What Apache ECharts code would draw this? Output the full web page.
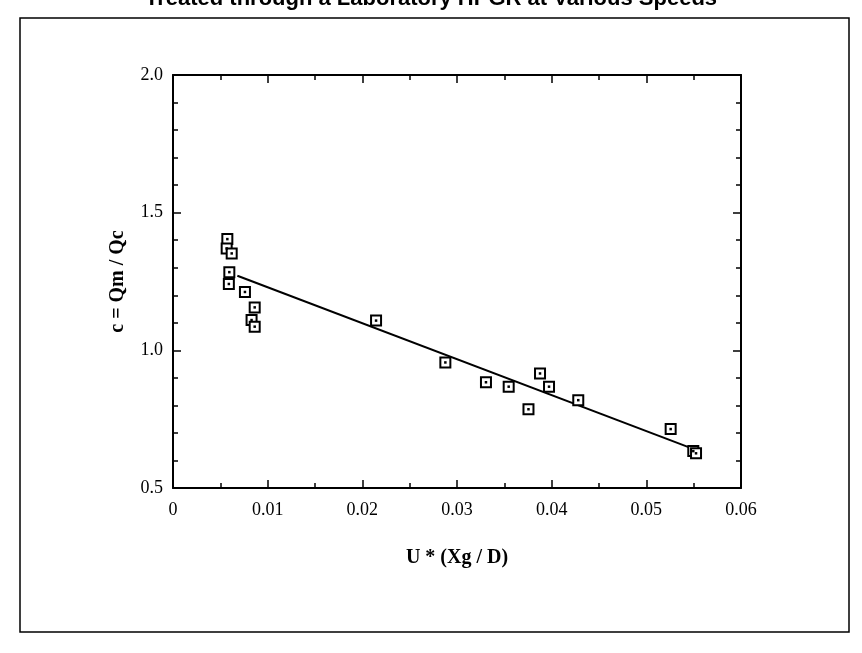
<!DOCTYPE html>
<html>
<head>
<meta charset="utf-8">
<script src="https://cdn.jsdelivr.net/npm/echarts@6/dist/echarts.min.js"></script>
<style>
  html, body { margin: 0; padding: 0; background: #fff; }
  #main { width: 862px; height: 653px; }
</style>
</head>
<body>
<div id="main"></div>
<script>
var xVals = [0.00574, 0.00567, 0.0062, 0.00595, 0.0059, 0.0076, 0.00863, 0.0083, 0.00863,
             0.02145, 0.02877, 0.03306, 0.03546, 0.03877, 0.03972, 0.04281, 0.03755,
             0.05257, 0.05496, 0.05525];
var yVals = [1.404, 1.370, 1.352, 1.284, 1.241, 1.212, 1.156, 1.110, 1.086,
             1.108, 0.956, 0.884, 0.868, 0.916, 0.868, 0.819, 0.786,
             0.714, 0.634, 0.626];
// regression line end points
var fitX = [0.0068, 0.0555];
var fitY = [1.271, 0.635];

var xTicks = [0, 0.01, 0.02, 0.03, 0.04, 0.05, 0.06];
var yTicks = [0.5, 1.0, 1.5, 2.0];

var pts = xVals.map(function (x, i) { return [x, yVals[i]]; });
var fitData = fitX.map(function (x, i) { return [x, fitY[i]]; });

var chart = echarts.init(document.getElementById('main'));

var serif = 'Liberation Serif';
var lineCol = '#000';

function axisBase(showLabel) {
    return {
        axisLine: { show: true, onZero: false, lineStyle: { color: lineCol, width: 2 } },
        axisTick: { show: true, inside: true, length: 8, lineStyle: { color: lineCol, width: 1.5 } },
        splitLine: { show: false },
        axisLabel: { show: showLabel }
    };
}

var xMain = Object.assign(axisBase(true), {
    type: 'value', position: 'bottom',
    min: xTicks[0], max: xTicks[xTicks.length - 1], interval: 0.01,
    minorTick: { show: true, splitNumber: 2, length: 5, lineStyle: { color: lineCol, width: 1.5 } },
    axisLabel: {
        show: true, margin: 13, color: '#000', fontFamily: serif, fontSize: 18,
        formatter: function (v) { return String(+v.toFixed(2)); }
    },
    name: 'U * (Xg / D)', nameLocation: 'middle', nameGap: 60,
    nameTextStyle: { fontFamily: serif, fontWeight: 'bold', fontSize: 20, color: '#000' }
});
var xTop = Object.assign(axisBase(false), {
    type: 'value', position: 'top',
    min: xTicks[0], max: xTicks[xTicks.length - 1], interval: 0.01,
    minorTick: { show: true, splitNumber: 2, length: 5, lineStyle: { color: lineCol, width: 1.5 } }
});
var yMain = Object.assign(axisBase(true), {
    type: 'value', position: 'left',
    min: yTicks[0], max: yTicks[yTicks.length - 1], interval: 0.5,
    minorTick: { show: true, splitNumber: 5, length: 5, lineStyle: { color: lineCol, width: 1.5 } },
    axisLabel: {
        show: true, margin: 10, color: '#000', fontFamily: serif, fontSize: 18,
        formatter: function (v) { return v.toFixed(1); }
    },
    name: 'c = Qm / Qc', nameLocation: 'middle', nameGap: 45,
    nameTextStyle: { fontFamily: serif, fontWeight: 'bold', fontSize: 20, color: '#000' }
});
var yRight = Object.assign(axisBase(false), {
    type: 'value', position: 'right',
    min: yTicks[0], max: yTicks[yTicks.length - 1], interval: 0.5,
    minorTick: { show: true, splitNumber: 5, length: 5, lineStyle: { color: lineCol, width: 1.5 } }
});

var option = {
    backgroundColor: '#fff',
    animation: false,
    title: {
        text: 'Treated through a Laboratory HPGR at Various Speeds',
        left: 'center', top: -17,
        textStyle: { fontFamily: 'Liberation Sans', fontWeight: 'bold', fontSize: 22, color: '#000' }
    },
    graphic: [{
        type: 'rect',
        shape: { x: 20, y: 18, width: 829, height: 614 },
        style: { fill: null, stroke: '#000', lineWidth: 1.5 },
        silent: true
    }],
    grid: { left: 173, right: 121, top: 75, bottom: 165 },
    xAxis: [xMain, xTop],
    yAxis: [yMain, yRight],
    series: [{
        type: 'line',
        data: fitData,
        symbol: 'none',
        lineStyle: { color: '#000', width: 2 },
        z: 2
    }, {
        type: 'scatter',
        data: pts,
        symbol: 'rect',
        symbolSize: 10,
        itemStyle: { color: '#fff', borderColor: '#000', borderWidth: 2, opacity: 1 },
        z: 3
    }, {
        type: 'scatter',
        data: pts,
        symbol: 'rect',
        symbolSize: 2.5,
        itemStyle: { color: '#000', opacity: 1 },
        z: 4
    }]
};

chart.setOption(option);
</script>
</body>
</html>
